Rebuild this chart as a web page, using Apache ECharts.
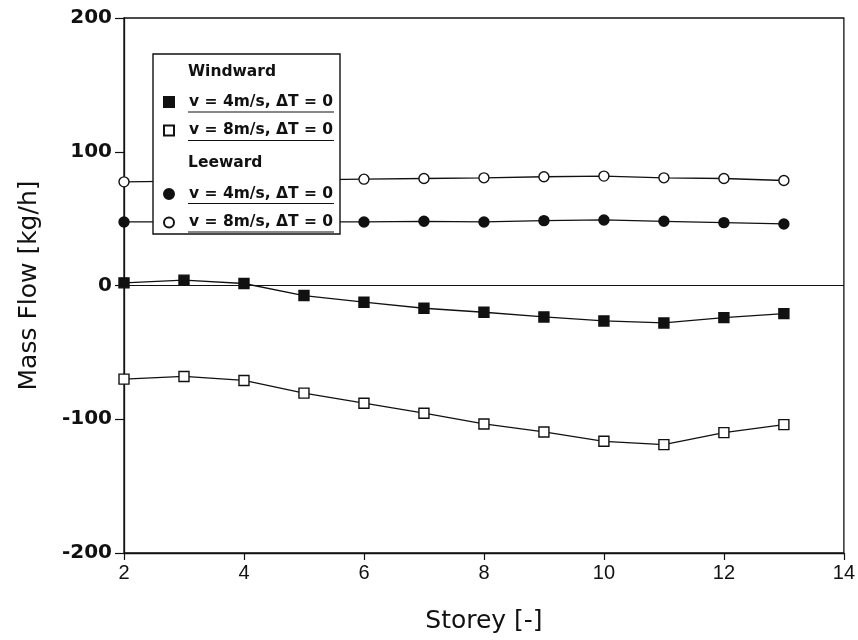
<!DOCTYPE html>
<html>
<head>
<meta charset="utf-8">
<script src="https://cdn.jsdelivr.net/npm/echarts@6/dist/echarts.min.js"></script>
<style>
  html, body { margin: 0; padding: 0; background: #fff; }
  #chart { width: 858px; height: 640px; }
</style>
</head>
<body>
<div id="chart"></div>
<script>
// 楼层
var storeys = [2, 3, 4, 5, 6, 7, 8, 9, 10, 11, 12, 13];
// 迎风面
var windward4 = [2, 4, 1.5, -7.5, -12.5, -17, -20, -23.5, -26.5, -28, -24, -21];
var windward8 = [-70, -68, -71, -80.5, -88, -95.5, -103.5, -109.5, -116.5, -119, -110, -104];
// 背风面
var leeward4 = [47.5, 47.5, 47.5, 47.5, 47.5, 48, 47.5, 48.5, 49, 48, 47, 46];
var leeward8 = [77.5, 78, 78.5, 79, 79.5, 80, 80.5, 81.3, 81.8, 80.5, 80, 78.5];

var yTicks = [-200, -100, 0, 100, 200];
var xTicks = [2, 4, 6, 8, 10, 12, 14];

var chart = echarts.init(document.getElementById('chart'));

function pairs(vals) {
    var res = [];
    for (var i = 0; i < storeys.length; i++) {
        res.push([storeys[i], vals[i]]);
    }
    return res;
}

function mkSeries(name, vals, symbol, filled) {
    return {
        name: name,
        type: 'line',
        data: pairs(vals),
        symbol: symbol,
        symbolSize: 10,
        lineStyle: { color: '#111', width: 1.3 },
        itemStyle: { color: filled ? '#111' : '#fff', borderColor: '#111', borderWidth: 1.4 },
        z: 2
    };
}

var series = [
    mkSeries('Windward: v = 4m/s, ΔT = 0', windward4, 'rect', true),
    mkSeries('Windward: v = 8m/s, ΔT = 0', windward8, 'rect', false),
    mkSeries('Leeward: v = 4m/s, ΔT = 0', leeward4, 'circle', true),
    mkSeries('Leeward: v = 8m/s, ΔT = 0', leeward8, 'circle', false)
];
// 零线
series[0].markLine = {
    silent: true,
    symbol: 'none',
    label: { show: false },
    lineStyle: { color: '#111', width: 1.2, type: 'solid' },
    data: [{ yAxis: 0 }]
};

var legendText = {
    fontFamily: 'DejaVu Sans',
    fontWeight: 'bold',
    fontSize: 15.5,
    color: '#111',
    lineHeight: 16,
    padding: [0, 0, 0, 10]
};

function legendFmt(name) {
    return name.split(': ')[1];
}

var underline = { stroke: '#111', lineWidth: 1.2 };

var option = {
    backgroundColor: '#fff',
    animation: false,
    grid: {
        left: 124, right: 14, top: 18, bottom: 87,
        show: true, borderColor: '#111', borderWidth: 1.3
    },
    xAxis: {
        type: 'value',
        min: 2, max: 14, interval: 2,
        name: 'Storey [-]',
        nameLocation: 'middle',
        nameGap: 56,
        nameTextStyle: { fontFamily: 'DejaVu Sans', fontSize: 25, color: '#111' },
        axisLine: { onZero: false, lineStyle: { color: '#111', width: 1.3 } },
        axisTick: { show: true, inside: false, length: 7, lineStyle: { color: '#111', width: 1.2 } },
        axisLabel: {
            margin: 10,
            fontFamily: 'Liberation Sans',
            fontSize: 20, color: '#111',
            customValues: xTicks
        },
        splitLine: { show: false }
    },
    yAxis: {
        type: 'value',
        min: -200, max: 200, interval: 100,
        name: 'Mass Flow [kg/h]',
        nameLocation: 'middle',
        nameGap: 82,
        nameTextStyle: { fontFamily: 'DejaVu Sans', fontSize: 25, color: '#111' },
        axisLine: { onZero: false, lineStyle: { color: '#111', width: 1.3 } },
        axisTick: { show: true, inside: false, length: 9, lineStyle: { color: '#111', width: 1.2 } },
        axisLabel: {
            margin: 12,
            fontFamily: 'DejaVu Sans', fontWeight: 'bold',
            fontSize: 20, color: '#111',
            customValues: yTicks
        },
        splitLine: { show: false }
    },
    legend: [{
        orient: 'vertical',
        left: 163, top: 94,
        padding: 0,
        itemGap: 12.4,
        itemWidth: 10, itemHeight: 10,
        icon: 'rect',
        selectedMode: false,
        textStyle: legendText,
        formatter: legendFmt,
        data: [series[0].name, series[1].name],
        z: 6
    }, {
        orient: 'vertical',
        left: 163, top: 186,
        padding: 0,
        itemGap: 12.4,
        itemWidth: 10, itemHeight: 10,
        icon: 'circle',
        selectedMode: false,
        textStyle: legendText,
        formatter: legendFmt,
        data: [series[2].name, series[3].name],
        z: 6
    }],
    graphic: [
        // 图例框
        { type: 'rect', z: 4, shape: { x: 153, y: 54, width: 187, height: 180 },
          style: { fill: '#fff', stroke: '#111', lineWidth: 1.4 } },
        { type: 'text', z: 5, x: 188, y: 72,
          style: { text: 'Windward', font: 'bold 15.5px "DejaVu Sans"', fill: '#111', verticalAlign: 'middle' } },
        { type: 'text', z: 5, x: 188, y: 163,
          style: { text: 'Leeward', font: 'bold 15.5px "DejaVu Sans"', fill: '#111', verticalAlign: 'middle' } },
        // 下划线
        { type: 'line', z: 5, shape: { x1: 188, y1: 112, x2: 334, y2: 112 }, style: underline },
        { type: 'line', z: 5, shape: { x1: 188, y1: 140.5, x2: 334, y2: 140.5 }, style: underline },
        { type: 'line', z: 5, shape: { x1: 188, y1: 203.5, x2: 334, y2: 203.5 }, style: underline },
        { type: 'line', z: 5, shape: { x1: 188, y1: 232, x2: 334, y2: 232 }, style: underline }
    ],
    series: series
};

chart.setOption(option);
</script>
</body>
</html>
